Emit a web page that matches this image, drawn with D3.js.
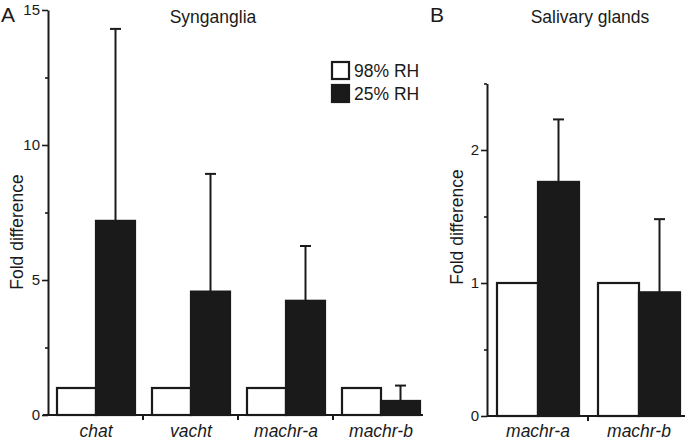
<!DOCTYPE html>
<html><head><meta charset="utf-8">
<script src="https://cdn.jsdelivr.net/npm/d3@7"></script>
<style>body{margin:0;background:#fff}text{font-family:"Liberation Sans",Arial,sans-serif;fill:#1a1a1a}</style>
</head><body>
<svg id="c" width="685" height="441"></svg>
<script>
const seriesNames = ["98% RH", "25% RH"];
const categoriesA = ["chat", "vacht", "machr-a", "machr-b"];
const rh98A = [1, 1, 1, 1];
const rh25A = [7.19, 4.57, 4.23, 0.52];
const errA = [7.11, 4.36, 2.03, 0.57];
const yTicksA = [0, 5, 10, 15];
const yMinorA = [2.5, 7.5, 12.5];

const categoriesB = ["machr-a", "machr-b"];
const rh98B = [1, 1];
const rh25B = [1.76, 0.93];
const errB = [0.47, 0.55];
const yTicksB = [0, 1, 2];
const yMinorB = [0.5, 1.5, 2.5];

const ink = "#1a1a1a";
const svg = d3.select("#c");

function panel(o) {
  const g = svg.append("g");
  const y = d3.scaleLinear().domain(o.yDomain).range([o.y0, o.y1]);
  const x = d3.scaleBand().domain(o.cats).range(o.xRange);
  const sub = d3.scaleBand().domain(seriesNames).range(o.subRange);
  const rows = o.cats.map((c, i) => ({c, v: [o.s98[i], o.s25[i]], e: o.err[i]}));

  // bars
  rows.forEach(r => {
    seriesNames.forEach((s, k) => {
      g.append("rect")
        .attr("x", x(r.c) + sub(s))
        .attr("y", y(r.v[k]))
        .attr("width", sub.bandwidth())
        .attr("height", y(0) - y(r.v[k]))
        .attr("fill", k === 0 ? "#fff" : ink)
        .attr("stroke", ink).attr("stroke-width", 2.2);
    });
    const cx = x(r.c) + sub(seriesNames[1]) + sub.bandwidth() / 2;
    g.append("line").attr("x1", cx).attr("x2", cx)
      .attr("y1", y(r.v[1])).attr("y2", y(r.v[1] + r.e))
      .attr("stroke", ink).attr("stroke-width", 2);
    g.append("line").attr("x1", cx - 5.5).attr("x2", cx + 5.5)
      .attr("y1", y(r.v[1] + r.e)).attr("y2", y(r.v[1] + r.e))
      .attr("stroke", ink).attr("stroke-width", 2);
  });

  // x axis
  g.append("line").attr("x1", o.xAxis[0]).attr("x2", o.xAxis[1])
    .attr("y1", y(0)).attr("y2", y(0)).attr("stroke", ink).attr("stroke-width", 2);
  o.cats.slice(1).forEach(c => {
    g.append("line").attr("x1", x(c)).attr("x2", x(c))
      .attr("y1", y(0)).attr("y2", y(0) + 5).attr("stroke", ink).attr("stroke-width", 2);
  });
  o.cats.forEach(c => {
    g.append("text").attr("x", x(c) + (o.subRange[0] + o.subRange[1]) / 2)
      .attr("y", 437).attr("text-anchor", "middle")
      .style("font-size", "17.5px").style("font-style", "italic").text(c);
  });

  // y axis
  const ax = g.append("g").attr("transform", `translate(${o.xRange[0]},0)`)
    .call(d3.axisLeft(y).tickValues(o.yTicks).tickFormat(d3.format("~g"))
      .tickSize(6).tickPadding(2).tickSizeOuter(0));
  ax.select(".domain").attr("stroke", ink).attr("stroke-width", 2);
  ax.selectAll(".tick line").attr("stroke", ink).attr("stroke-width", 1.6);
  ax.selectAll(".tick text").style("font-size", "15px").attr("fill", ink)
    .style("font-family", '"Liberation Sans",Arial,sans-serif');
  const mx = g.append("g").attr("transform", `translate(${o.xRange[0]},0)`)
    .call(d3.axisLeft(y).tickValues(o.yMinor).tickSize(3).tickFormat("").tickSizeOuter(0));
  mx.select(".domain").remove();
  mx.selectAll(".tick line").attr("stroke", ink).attr("stroke-width", 1.6);

  // y label
  g.append("text").attr("transform", `translate(${o.labelX},${o.labelY}) rotate(-90)`)
    .attr("text-anchor", "middle").style("font-size", "17.5px").text("Fold difference");
  // title
  g.append("text").attr("x", o.titleX).attr("y", 23).attr("text-anchor", "middle")
    .style("font-size", "17.5px").text(o.title);
  // panel letter
  g.append("text").attr("x", o.letterX).attr("y", 22).style("font-size", "21px").text(o.letter);
  return {x, y};
}

panel({cats: categoriesA, s98: rh98A, s25: rh25A, err: errA,
  yDomain: [0, 15], y0: 415, y1: 10, xRange: [48, 428], subRange: [9, 87],
  xAxis: [43, 423], yTicks: yTicksA, yMinor: yMinorA,
  labelX: 23, labelY: 232, title: "Synganglia", titleX: 213, letter: "A", letterX: 1});

panel({cats: categoriesB, s98: rh98B, s25: rh25B, err: errB,
  yDomain: [0, 2.5], y0: 416, y1: 83.5, xRange: [487, 689], subRange: [10, 92],
  xAxis: [487, 685], yTicks: yTicksB, yMinor: yMinorB,
  labelX: 463, labelY: 227, title: "Salivary glands", titleX: 590, letter: "B", letterX: 430});

// legend
const leg = svg.append("g");
seriesNames.forEach((s, i) => {
  leg.append("rect").attr("x", 332).attr("y", 62 + i * 23).attr("width", 17).attr("height", 17)
    .attr("fill", i === 0 ? "#fff" : ink).attr("stroke", ink).attr("stroke-width", 2.2);
  leg.append("text").attr("x", 354).attr("y", 77 + i * 23).style("font-size", "17.5px").text(s);
});
</script>
</body></html>
